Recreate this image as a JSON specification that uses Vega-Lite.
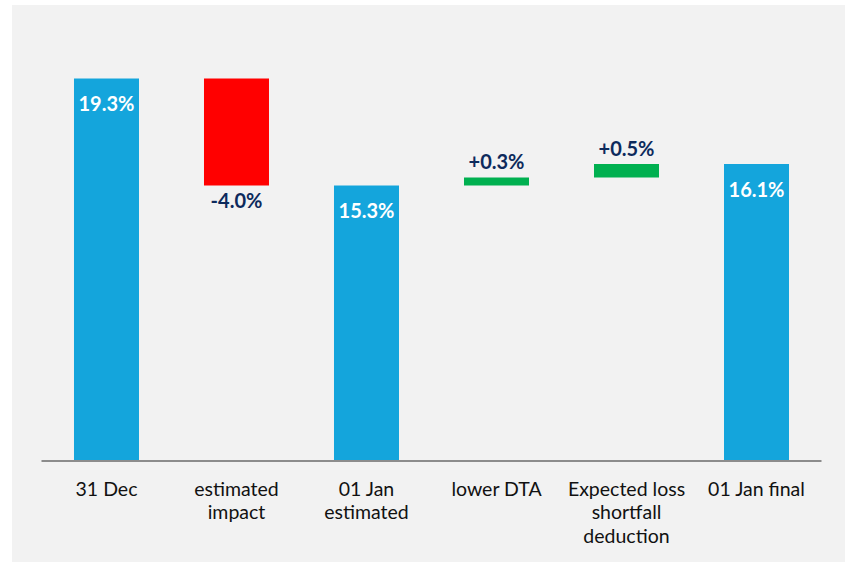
{
  "$schema": "https://vega.github.io/schema/vega-lite/v6.json",
  "width": 833,
  "height": 557,
  "autosize": {"type": "none"},
  "padding": {"left": 12, "top": 5, "right": 0, "bottom": 1},
  "background": "#ffffff",
  "config": {
    "view": {"fill": "#f2f2f2", "stroke": null},
    "font": "Lato"
  },
  "datasets": {
    "steps": [
      {"step": "31 Dec", "start": 5, "end": 19.3, "label": "19.3%", "kind": "total"},
      {"step": "estimated impact", "start": 19.3, "end": 15.3, "label": "-4.0%", "kind": "decrease"},
      {"step": "01 Jan estimated", "start": 5, "end": 15.3, "label": "15.3%", "kind": "total"},
      {"step": "lower DTA", "start": 15.3, "end": 15.6, "label": "+0.3%", "kind": "increase"},
      {"step": "Expected loss shortfall deduction", "start": 15.6, "end": 16.1, "label": "+0.5%", "kind": "increase"},
      {"step": "01 Jan final", "start": 5, "end": 16.1, "label": "16.1%", "kind": "total"}
    ],
    "baseline": [
      {"from": "31 Dec", "to": "01 Jan final", "level": 5}
    ]
  },
  "resolve": {"scale": {"x": "shared", "y": "shared"}},
  "layer": [
    {
      "data": {"name": "steps"},
      "mark": {"type": "bar"},
      "encoding": {
        "x": {
          "field": "step",
          "type": "nominal",
          "sort": null,
          "scale": {
            "domain": ["31 Dec", "estimated impact", "01 Jan estimated", "lower DTA", "Expected loss shortfall deduction", "01 Jan final"],
            "paddingInner": 0.5,
            "paddingOuter": 0.4538,
            "align": 0.5254
          },
          "axis": {
            "orient": "bottom",
            "offset": -101,
            "title": null,
            "domain": false,
            "ticks": false,
            "labelAngle": 0,
            "labelPadding": 19,
            "labelFont": "Lato",
            "labelFontSize": 19.5,
            "labelColor": "#111111",
            "labelLineHeight": 23.5,
            "labelLimit": 0,
            "labelExpr": "datum.value == 'estimated impact' ? ['estimated', 'impact'] : datum.value == '01 Jan estimated' ? ['01 Jan', 'estimated'] : datum.value == 'Expected loss shortfall deduction' ? ['Expected loss', 'shortfall', 'deduction'] : datum.value"
          }
        },
        "y": {
          "field": "end",
          "type": "quantitative",
          "scale": {"domain": [1.224, 22.047], "nice": false, "zero": false},
          "axis": null
        },
        "y2": {"field": "start"},
        "color": {
          "field": "kind",
          "type": "nominal",
          "scale": {"domain": ["total", "decrease", "increase"], "range": ["#14a5dc", "#ff0000", "#00b050"]},
          "legend": null
        }
      }
    },
    {
      "data": {"name": "baseline"},
      "mark": {"type": "rule", "stroke": "#8c8c8c", "strokeWidth": 2},
      "encoding": {
        "x": {"field": "from", "type": "nominal", "bandPosition": -0.5},
        "x2": {"field": "to", "bandPosition": 1.5},
        "y": {"field": "level", "type": "quantitative"}
      }
    },
    {
      "data": {"name": "steps"},
      "transform": [{"filter": "datum.kind == 'total'"}],
      "mark": {"type": "text", "font": "Lato", "fontWeight": "bold", "fontSize": 20, "color": "#ffffff", "baseline": "alphabetic", "dy": 33},
      "encoding": {
        "x": {"field": "step", "type": "nominal"},
        "y": {"field": "end", "type": "quantitative"},
        "text": {"field": "label"}
      }
    },
    {
      "data": {"name": "steps"},
      "transform": [{"filter": "datum.kind == 'increase'"}],
      "mark": {"type": "text", "font": "Lato", "fontWeight": "bold", "fontSize": 20, "color": "#0d2a5c", "baseline": "alphabetic", "dy": -8.5},
      "encoding": {
        "x": {"field": "step", "type": "nominal"},
        "y": {"field": "end", "type": "quantitative"},
        "text": {"field": "label"}
      }
    },
    {
      "data": {"name": "steps"},
      "transform": [{"filter": "datum.kind == 'decrease'"}],
      "mark": {"type": "text", "font": "Lato", "fontWeight": "bold", "fontSize": 20, "color": "#0d2a5c", "baseline": "alphabetic", "dy": 23},
      "encoding": {
        "x": {"field": "step", "type": "nominal"},
        "y": {"field": "end", "type": "quantitative"},
        "text": {"field": "label"}
      }
    }
  ]
}
